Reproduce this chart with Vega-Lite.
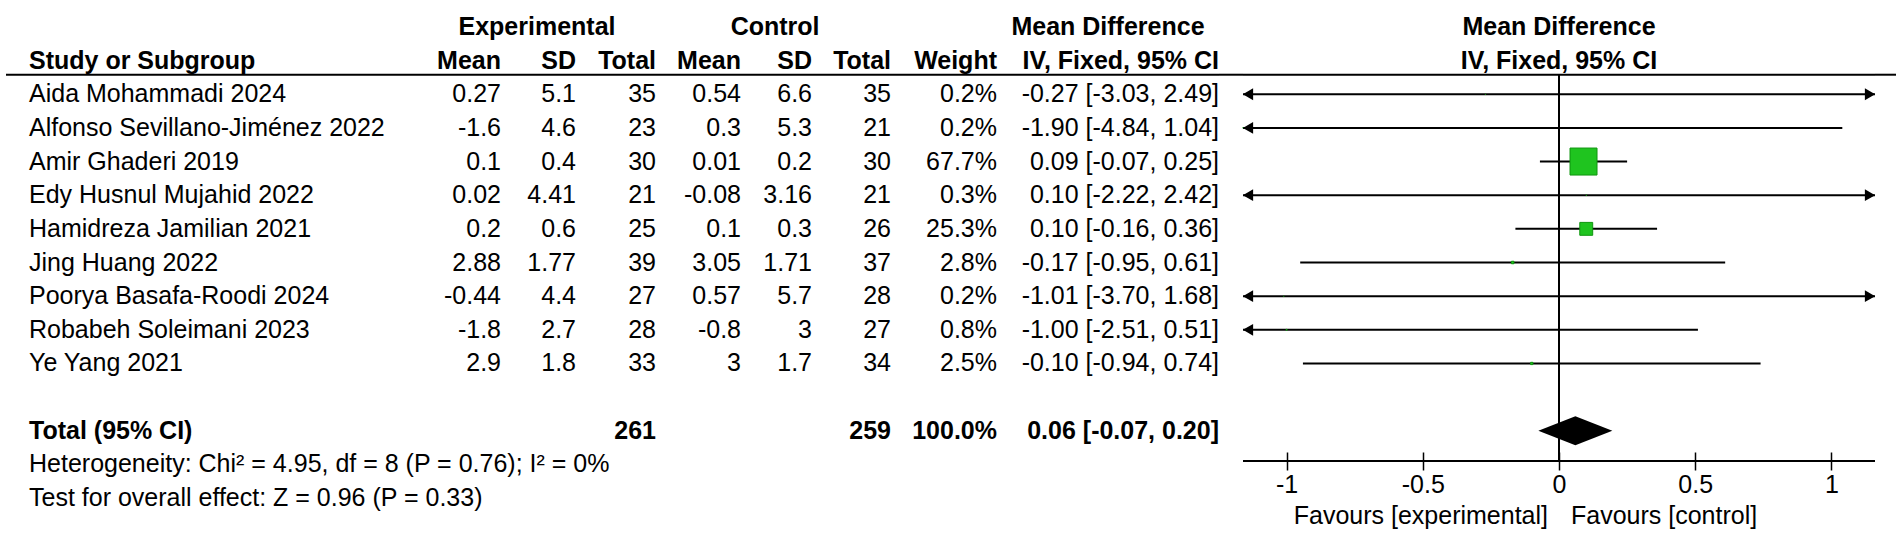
{
  "$schema": "https://vega.github.io/schema/vega-lite/v6.json",
  "padding": {"left": 5, "right": 7, "top": 0, "bottom": 0},
  "spacing": 0,
  "bounds": "flush",
  "config": {
    "view": {"stroke": null},
    "font": "Liberation Sans",
    "text": {"fontSize": 25, "color": "#000"},
    "locale": {"number": {"decimal": ".", "thousands": ",", "grouping": [3], "currency": ["$", ""], "minus": "-"}}
  },
  "datasets": {
    "studies": [
      {"row": "Aida Mohammadi 2024", "emean": 0.27, "esd": 5.1, "etot": 35, "cmean": 0.54, "csd": 6.6, "ctot": 35, "weight": 0.002, "md": -0.27, "lo": -3.03, "hi": 2.49},
      {"row": "Alfonso Sevillano-Jiménez 2022", "emean": -1.6, "esd": 4.6, "etot": 23, "cmean": 0.3, "csd": 5.3, "ctot": 21, "weight": 0.002, "md": -1.9, "lo": -4.84, "hi": 1.04},
      {"row": "Amir Ghaderi 2019", "emean": 0.1, "esd": 0.4, "etot": 30, "cmean": 0.01, "csd": 0.2, "ctot": 30, "weight": 0.677, "md": 0.09, "lo": -0.07, "hi": 0.25},
      {"row": "Edy Husnul Mujahid 2022", "emean": 0.02, "esd": 4.41, "etot": 21, "cmean": -0.08, "csd": 3.16, "ctot": 21, "weight": 0.003, "md": 0.1, "lo": -2.22, "hi": 2.42},
      {"row": "Hamidreza Jamilian 2021", "emean": 0.2, "esd": 0.6, "etot": 25, "cmean": 0.1, "csd": 0.3, "ctot": 26, "weight": 0.253, "md": 0.1, "lo": -0.16, "hi": 0.36},
      {"row": "Jing Huang 2022", "emean": 2.88, "esd": 1.77, "etot": 39, "cmean": 3.05, "csd": 1.71, "ctot": 37, "weight": 0.028, "md": -0.17, "lo": -0.95, "hi": 0.61},
      {"row": "Poorya Basafa-Roodi 2024", "emean": -0.44, "esd": 4.4, "etot": 27, "cmean": 0.57, "csd": 5.7, "ctot": 28, "weight": 0.002, "md": -1.01, "lo": -3.7, "hi": 1.68},
      {"row": "Robabeh Soleimani 2023", "emean": -1.8, "esd": 2.7, "etot": 28, "cmean": -0.8, "csd": 3, "ctot": 27, "weight": 0.008, "md": -1.0, "lo": -2.51, "hi": 0.51},
      {"row": "Ye Yang 2021", "emean": 2.9, "esd": 1.8, "etot": 33, "cmean": 3, "csd": 1.7, "ctot": 34, "weight": 0.025, "md": -0.1, "lo": -0.94, "hi": 0.74}
    ],
    "total": [
      {"row": "Total (95% CI)", "etot": 261, "ctot": 259, "weight": 1.0, "md": 0.06, "lo": -0.07, "hi": 0.2}
    ],
    "notes": [
      {"row": "het", "text": "Heterogeneity: Chi² = 4.95, df = 8 (P = 0.76); I² = 0%"},
      {"row": "test", "text": "Test for overall effect: Z = 0.96 (P = 0.33)"}
    ]
  },
  "hconcat": [
    {
      "width": 425, "height": 525,
      "encoding": {"y": {"field": "row", "type": "nominal", "axis": null, "scale": {"type": "band", "paddingInner": 0, "paddingOuter": 0.3, "domain": ["h1", "h2", "Aida Mohammadi 2024", "Alfonso Sevillano-Jiménez 2022", "Amir Ghaderi 2019", "Edy Husnul Mujahid 2022", "Hamidreza Jamilian 2021", "Jing Huang 2022", "Poorya Basafa-Roodi 2024", "Robabeh Soleimani 2023", "Ye Yang 2021", "gap", "Total (95% CI)", "het", "test"]}}},
      "layer": [
        {"data": {"values": [{"row": "h2"}]}, "mark": {"type": "rule", "color": "#000", "strokeWidth": 2}, "encoding": {"y": {"field": "row", "type": "nominal", "bandPosition": 0.92, "axis": null}}},
        {"data": {"values": [{"row": "h2"}]}, "mark": {"type": "text", "text": "Study or Subgroup", "align": "left", "fontWeight": "bold", "dx": 23}, "encoding": {"x": {"datum": 0, "type": "quantitative", "scale": {"domain": [0, 1]}, "axis": null}}},
        {"data": {"name": "studies"}, "mark": {"type": "text", "align": "left", "dx": 23}, "encoding": {"x": {"datum": 0, "type": "quantitative", "scale": {"domain": [0, 1]}, "axis": null}, "text": {"field": "row", "type": "nominal"}}},
        {"data": {"name": "total"}, "mark": {"type": "text", "align": "left", "dx": 23, "fontWeight": "bold"}, "encoding": {"x": {"datum": 0, "type": "quantitative", "scale": {"domain": [0, 1]}, "axis": null}, "text": {"field": "row", "type": "nominal"}}},
        {"data": {"name": "notes"}, "mark": {"type": "text", "align": "left", "dx": 23}, "encoding": {"x": {"datum": 0, "type": "quantitative", "scale": {"domain": [0, 1]}, "axis": null}, "text": {"field": "text", "type": "nominal"}}}
      ]
    },
    {
      "width": 70, "height": 525,
      "encoding": {"y": {"field": "row", "type": "nominal", "axis": null, "scale": {"type": "band", "paddingInner": 0, "paddingOuter": 0.3, "domain": ["h1", "h2", "Aida Mohammadi 2024", "Alfonso Sevillano-Jiménez 2022", "Amir Ghaderi 2019", "Edy Husnul Mujahid 2022", "Hamidreza Jamilian 2021", "Jing Huang 2022", "Poorya Basafa-Roodi 2024", "Robabeh Soleimani 2023", "Ye Yang 2021", "gap", "Total (95% CI)", "het", "test"]}}},
      "layer": [
        {"data": {"values": [{"row": "h2"}]}, "mark": {"type": "rule", "color": "#000", "strokeWidth": 2}, "encoding": {"y": {"field": "row", "type": "nominal", "bandPosition": 0.92, "axis": null}}},
        {"data": {"values": [{"row": "h2"}]}, "mark": {"type": "text", "text": "Mean", "align": "right", "fontWeight": "bold"}, "encoding": {"x": {"datum": 1, "type": "quantitative", "scale": {"domain": [0, 1]}, "axis": null}}},
        {"data": {"name": "studies"}, "mark": {"type": "text", "align": "right"}, "encoding": {"x": {"datum": 1, "type": "quantitative", "scale": {"domain": [0, 1]}, "axis": null}, "text": {"field": "emean", "type": "nominal"}}}
      ]
    },
    {
      "width": 75, "height": 525,
      "encoding": {"y": {"field": "row", "type": "nominal", "axis": null, "scale": {"type": "band", "paddingInner": 0, "paddingOuter": 0.3, "domain": ["h1", "h2", "Aida Mohammadi 2024", "Alfonso Sevillano-Jiménez 2022", "Amir Ghaderi 2019", "Edy Husnul Mujahid 2022", "Hamidreza Jamilian 2021", "Jing Huang 2022", "Poorya Basafa-Roodi 2024", "Robabeh Soleimani 2023", "Ye Yang 2021", "gap", "Total (95% CI)", "het", "test"]}}},
      "layer": [
        {"data": {"values": [{"row": "h2"}]}, "mark": {"type": "rule", "color": "#000", "strokeWidth": 2}, "encoding": {"y": {"field": "row", "type": "nominal", "bandPosition": 0.92, "axis": null}}},
        {"data": {"values": [{"row": "h1"}]}, "mark": {"type": "text", "text": "Experimental", "align": "center", "fontWeight": "bold"}, "encoding": {"x": {"datum": 0.48, "type": "quantitative", "scale": {"domain": [0, 1]}, "axis": null}}},
        {"data": {"values": [{"row": "h2"}]}, "mark": {"type": "text", "text": "SD", "align": "right", "fontWeight": "bold"}, "encoding": {"x": {"datum": 1, "type": "quantitative", "scale": {"domain": [0, 1]}, "axis": null}}},
        {"data": {"name": "studies"}, "mark": {"type": "text", "align": "right"}, "encoding": {"x": {"datum": 1, "type": "quantitative", "scale": {"domain": [0, 1]}, "axis": null}, "text": {"field": "esd", "type": "nominal"}}}
      ]
    },
    {
      "width": 80, "height": 525,
      "encoding": {"y": {"field": "row", "type": "nominal", "axis": null, "scale": {"type": "band", "paddingInner": 0, "paddingOuter": 0.3, "domain": ["h1", "h2", "Aida Mohammadi 2024", "Alfonso Sevillano-Jiménez 2022", "Amir Ghaderi 2019", "Edy Husnul Mujahid 2022", "Hamidreza Jamilian 2021", "Jing Huang 2022", "Poorya Basafa-Roodi 2024", "Robabeh Soleimani 2023", "Ye Yang 2021", "gap", "Total (95% CI)", "het", "test"]}}},
      "layer": [
        {"data": {"values": [{"row": "h2"}]}, "mark": {"type": "rule", "color": "#000", "strokeWidth": 2}, "encoding": {"y": {"field": "row", "type": "nominal", "bandPosition": 0.92, "axis": null}}},
        {"data": {"values": [{"row": "h2"}]}, "mark": {"type": "text", "text": "Total", "align": "right", "fontWeight": "bold"}, "encoding": {"x": {"datum": 1, "type": "quantitative", "scale": {"domain": [0, 1]}, "axis": null}}},
        {"data": {"name": "studies"}, "mark": {"type": "text", "align": "right"}, "encoding": {"x": {"datum": 1, "type": "quantitative", "scale": {"domain": [0, 1]}, "axis": null}, "text": {"field": "etot", "type": "nominal"}}},
        {"data": {"name": "total"}, "mark": {"type": "text", "align": "right", "fontWeight": "bold"}, "encoding": {"x": {"datum": 1, "type": "quantitative", "scale": {"domain": [0, 1]}, "axis": null}, "text": {"field": "etot", "type": "nominal"}}}
      ]
    },
    {
      "width": 85, "height": 525,
      "encoding": {"y": {"field": "row", "type": "nominal", "axis": null, "scale": {"type": "band", "paddingInner": 0, "paddingOuter": 0.3, "domain": ["h1", "h2", "Aida Mohammadi 2024", "Alfonso Sevillano-Jiménez 2022", "Amir Ghaderi 2019", "Edy Husnul Mujahid 2022", "Hamidreza Jamilian 2021", "Jing Huang 2022", "Poorya Basafa-Roodi 2024", "Robabeh Soleimani 2023", "Ye Yang 2021", "gap", "Total (95% CI)", "het", "test"]}}},
      "layer": [
        {"data": {"values": [{"row": "h2"}]}, "mark": {"type": "rule", "color": "#000", "strokeWidth": 2}, "encoding": {"y": {"field": "row", "type": "nominal", "bandPosition": 0.92, "axis": null}}},
        {"data": {"values": [{"row": "h2"}]}, "mark": {"type": "text", "text": "Mean", "align": "right", "fontWeight": "bold"}, "encoding": {"x": {"datum": 1, "type": "quantitative", "scale": {"domain": [0, 1]}, "axis": null}}},
        {"data": {"name": "studies"}, "mark": {"type": "text", "align": "right"}, "encoding": {"x": {"datum": 1, "type": "quantitative", "scale": {"domain": [0, 1]}, "axis": null}, "text": {"field": "cmean", "type": "nominal"}}}
      ]
    },
    {
      "width": 71, "height": 525,
      "encoding": {"y": {"field": "row", "type": "nominal", "axis": null, "scale": {"type": "band", "paddingInner": 0, "paddingOuter": 0.3, "domain": ["h1", "h2", "Aida Mohammadi 2024", "Alfonso Sevillano-Jiménez 2022", "Amir Ghaderi 2019", "Edy Husnul Mujahid 2022", "Hamidreza Jamilian 2021", "Jing Huang 2022", "Poorya Basafa-Roodi 2024", "Robabeh Soleimani 2023", "Ye Yang 2021", "gap", "Total (95% CI)", "het", "test"]}}},
      "layer": [
        {"data": {"values": [{"row": "h2"}]}, "mark": {"type": "rule", "color": "#000", "strokeWidth": 2}, "encoding": {"y": {"field": "row", "type": "nominal", "bandPosition": 0.92, "axis": null}}},
        {"data": {"values": [{"row": "h1"}]}, "mark": {"type": "text", "text": "Control", "align": "center", "fontWeight": "bold"}, "encoding": {"x": {"datum": 0.48, "type": "quantitative", "scale": {"domain": [0, 1]}, "axis": null}}},
        {"data": {"values": [{"row": "h2"}]}, "mark": {"type": "text", "text": "SD", "align": "right", "fontWeight": "bold"}, "encoding": {"x": {"datum": 1, "type": "quantitative", "scale": {"domain": [0, 1]}, "axis": null}}},
        {"data": {"name": "studies"}, "mark": {"type": "text", "align": "right"}, "encoding": {"x": {"datum": 1, "type": "quantitative", "scale": {"domain": [0, 1]}, "axis": null}, "text": {"field": "csd", "type": "nominal"}}}
      ]
    },
    {
      "width": 79, "height": 525,
      "encoding": {"y": {"field": "row", "type": "nominal", "axis": null, "scale": {"type": "band", "paddingInner": 0, "paddingOuter": 0.3, "domain": ["h1", "h2", "Aida Mohammadi 2024", "Alfonso Sevillano-Jiménez 2022", "Amir Ghaderi 2019", "Edy Husnul Mujahid 2022", "Hamidreza Jamilian 2021", "Jing Huang 2022", "Poorya Basafa-Roodi 2024", "Robabeh Soleimani 2023", "Ye Yang 2021", "gap", "Total (95% CI)", "het", "test"]}}},
      "layer": [
        {"data": {"values": [{"row": "h2"}]}, "mark": {"type": "rule", "color": "#000", "strokeWidth": 2}, "encoding": {"y": {"field": "row", "type": "nominal", "bandPosition": 0.92, "axis": null}}},
        {"data": {"values": [{"row": "h2"}]}, "mark": {"type": "text", "text": "Total", "align": "right", "fontWeight": "bold"}, "encoding": {"x": {"datum": 1, "type": "quantitative", "scale": {"domain": [0, 1]}, "axis": null}}},
        {"data": {"name": "studies"}, "mark": {"type": "text", "align": "right"}, "encoding": {"x": {"datum": 1, "type": "quantitative", "scale": {"domain": [0, 1]}, "axis": null}, "text": {"field": "ctot", "type": "nominal"}}},
        {"data": {"name": "total"}, "mark": {"type": "text", "align": "right", "fontWeight": "bold"}, "encoding": {"x": {"datum": 1, "type": "quantitative", "scale": {"domain": [0, 1]}, "axis": null}, "text": {"field": "ctot", "type": "nominal"}}}
      ]
    },
    {
      "width": 106, "height": 525,
      "encoding": {"y": {"field": "row", "type": "nominal", "axis": null, "scale": {"type": "band", "paddingInner": 0, "paddingOuter": 0.3, "domain": ["h1", "h2", "Aida Mohammadi 2024", "Alfonso Sevillano-Jiménez 2022", "Amir Ghaderi 2019", "Edy Husnul Mujahid 2022", "Hamidreza Jamilian 2021", "Jing Huang 2022", "Poorya Basafa-Roodi 2024", "Robabeh Soleimani 2023", "Ye Yang 2021", "gap", "Total (95% CI)", "het", "test"]}}},
      "layer": [
        {"data": {"values": [{"row": "h2"}]}, "mark": {"type": "rule", "color": "#000", "strokeWidth": 2}, "encoding": {"y": {"field": "row", "type": "nominal", "bandPosition": 0.92, "axis": null}}},
        {"data": {"values": [{"row": "h2"}]}, "mark": {"type": "text", "text": "Weight", "align": "right", "fontWeight": "bold"}, "encoding": {"x": {"datum": 1, "type": "quantitative", "scale": {"domain": [0, 1]}, "axis": null}}},
        {"data": {"name": "studies"}, "mark": {"type": "text", "align": "right"}, "encoding": {"x": {"datum": 1, "type": "quantitative", "scale": {"domain": [0, 1]}, "axis": null}, "text": {"field": "weight", "type": "quantitative", "format": ".1%"}}},
        {"data": {"name": "total"}, "mark": {"type": "text", "align": "right", "fontWeight": "bold"}, "encoding": {"x": {"datum": 1, "type": "quantitative", "scale": {"domain": [0, 1]}, "axis": null}, "text": {"field": "weight", "type": "quantitative", "format": ".1%"}}}
      ]
    },
    {
      "width": 222, "height": 525,
      "encoding": {"y": {"field": "row", "type": "nominal", "axis": null, "scale": {"type": "band", "paddingInner": 0, "paddingOuter": 0.3, "domain": ["h1", "h2", "Aida Mohammadi 2024", "Alfonso Sevillano-Jiménez 2022", "Amir Ghaderi 2019", "Edy Husnul Mujahid 2022", "Hamidreza Jamilian 2021", "Jing Huang 2022", "Poorya Basafa-Roodi 2024", "Robabeh Soleimani 2023", "Ye Yang 2021", "gap", "Total (95% CI)", "het", "test"]}}},
      "layer": [
        {"data": {"values": [{"row": "h2"}]}, "mark": {"type": "rule", "color": "#000", "strokeWidth": 2}, "encoding": {"y": {"field": "row", "type": "nominal", "bandPosition": 0.92, "axis": null}}},
        {"data": {"values": [{"row": "h1"}]}, "mark": {"type": "text", "text": "Mean Difference", "align": "center", "fontWeight": "bold"}, "encoding": {"x": {"datum": 0.5, "type": "quantitative", "scale": {"domain": [0, 1]}, "axis": null}}},
        {"data": {"values": [{"row": "h2"}]}, "mark": {"type": "text", "text": "IV, Fixed, 95% CI", "align": "right", "fontWeight": "bold"}, "encoding": {"x": {"datum": 1, "type": "quantitative", "scale": {"domain": [0, 1]}, "axis": null}}},
        {"data": {"name": "studies"}, "mark": {"type": "text", "align": "right", "text": {"expr": "format(datum.md, '.2f') + ' [' + format(datum.lo, '.2f') + ', ' + format(datum.hi, '.2f') + ']'"}}, "encoding": {"x": {"datum": 1, "type": "quantitative", "scale": {"domain": [0, 1]}, "axis": null}}},
        {"data": {"name": "total"}, "mark": {"type": "text", "align": "right", "fontWeight": "bold", "text": {"expr": "format(datum.md, '.2f') + ' [' + format(datum.lo, '.2f') + ', ' + format(datum.hi, '.2f') + ']'"}}, "encoding": {"x": {"datum": 1, "type": "quantitative", "scale": {"domain": [0, 1]}, "axis": null}}}
      ]
    },
    {
      "width": 24, "height": 525,
      "data": {"values": [{"row": "h2"}]},
      "mark": {"type": "rule", "color": "#000", "strokeWidth": 2},
      "encoding": {"y": {"field": "row", "type": "nominal", "bandPosition": 0.92, "axis": null, "scale": {"type": "band", "paddingInner": 0, "paddingOuter": 0.3, "domain": ["h1", "h2", "Aida Mohammadi 2024", "Alfonso Sevillano-Jiménez 2022", "Amir Ghaderi 2019", "Edy Husnul Mujahid 2022", "Hamidreza Jamilian 2021", "Jing Huang 2022", "Poorya Basafa-Roodi 2024", "Robabeh Soleimani 2023", "Ye Yang 2021", "gap", "Total (95% CI)", "het", "test"]}}}
    },
    {
      "width": 632, "height": 525,
      "encoding": {"y": {"field": "row", "type": "nominal", "axis": null, "scale": {"type": "band", "paddingInner": 0, "paddingOuter": 0.3, "domain": ["h1", "h2", "Aida Mohammadi 2024", "Alfonso Sevillano-Jiménez 2022", "Amir Ghaderi 2019", "Edy Husnul Mujahid 2022", "Hamidreza Jamilian 2021", "Jing Huang 2022", "Poorya Basafa-Roodi 2024", "Robabeh Soleimani 2023", "Ye Yang 2021", "gap", "Total (95% CI)", "het", "test"]}}},
      "layer": [
        {"data": {"values": [{"row": "h2"}]}, "mark": {"type": "rule", "color": "#000", "strokeWidth": 2}, "encoding": {"y": {"field": "row", "type": "nominal", "bandPosition": 0.92, "axis": null}}},
        {"data": {"values": [{"row": "het"}]}, "mark": {"type": "rule", "color": "#000", "strokeWidth": 2}, "encoding": {"y": {"field": "row", "type": "nominal", "bandPosition": 0.4, "axis": null}}},
        {"data": {"values": [{"row": "h2", "row2": "het"}]}, "mark": {"type": "rule", "color": "#000", "strokeWidth": 2},
         "encoding": {
           "x": {"datum": 0, "type": "quantitative", "scale": {"domain": [-1.16, 1.16], "nice": false, "zero": false, "clamp": true}, "axis": {"orient": "bottom", "offset": -73, "values": [-1, -0.5, 0, 0.5, 1], "tickSize": 18, "tickWidth": 1.5, "tickColor": "#000", "domain": false, "grid": false, "labelFontSize": 25, "labelColor": "#000", "labelPadding": 2, "labelExpr": "'' + datum.value", "title": null, "labelFlush": false}},
           "y": {"field": "row", "type": "nominal", "bandPosition": 0.92, "axis": null},
           "y2": {"field": "row2", "bandPosition": 0.4}
         }},
        {"data": {"name": "studies"}, "mark": {"type": "rule", "color": "#000", "strokeWidth": 2},
         "encoding": {
           "x": {"field": "lo", "type": "quantitative", "scale": {"domain": [-1.16, 1.16], "nice": false, "zero": false, "clamp": true}, "axis": {"orient": "bottom", "offset": -73, "values": [-1, -0.5, 0, 0.5, 1], "tickSize": 18, "tickWidth": 1.5, "tickColor": "#000", "domain": false, "grid": false, "labelFontSize": 25, "labelColor": "#000", "labelPadding": 2, "labelExpr": "'' + datum.value", "title": null, "labelFlush": false}},
           "x2": {"field": "hi"}
         }},
        {"data": {"name": "studies"}, "transform": [{"filter": "datum.lo < -1.16"}], "mark": {"type": "point", "shape": "triangle-left", "filled": true, "color": "#000", "opacity": 1, "size": 140, "xOffset": 5},
         "encoding": {
           "x": {"field": "lo", "type": "quantitative", "scale": {"domain": [-1.16, 1.16], "nice": false, "zero": false, "clamp": true}, "axis": {"orient": "bottom", "offset": -73, "values": [-1, -0.5, 0, 0.5, 1], "tickSize": 18, "tickWidth": 1.5, "tickColor": "#000", "domain": false, "grid": false, "labelFontSize": 25, "labelColor": "#000", "labelPadding": 2, "labelExpr": "'' + datum.value", "title": null, "labelFlush": false}}
         }},
        {"data": {"name": "studies"}, "transform": [{"filter": "datum.hi > 1.16"}], "mark": {"type": "point", "shape": "triangle-right", "filled": true, "color": "#000", "opacity": 1, "size": 140, "xOffset": -5},
         "encoding": {
           "x": {"field": "hi", "type": "quantitative", "scale": {"domain": [-1.16, 1.16], "nice": false, "zero": false, "clamp": true}, "axis": {"orient": "bottom", "offset": -73, "values": [-1, -0.5, 0, 0.5, 1], "tickSize": 18, "tickWidth": 1.5, "tickColor": "#000", "domain": false, "grid": false, "labelFontSize": 25, "labelColor": "#000", "labelPadding": 2, "labelExpr": "'' + datum.value", "title": null, "labelFlush": false}}
         }},
        {"data": {"name": "studies"}, "mark": {"type": "point", "shape": "square", "filled": true, "fill": "#1fc41f", "stroke": "#0f960f", "strokeWidth": 1, "opacity": 1},
         "encoding": {
           "x": {"field": "md", "type": "quantitative", "scale": {"domain": [-1.16, 1.16], "nice": false, "zero": false, "clamp": true}, "axis": {"orient": "bottom", "offset": -73, "values": [-1, -0.5, 0, 0.5, 1], "tickSize": 18, "tickWidth": 1.5, "tickColor": "#000", "domain": false, "grid": false, "labelFontSize": 25, "labelColor": "#000", "labelPadding": 2, "labelExpr": "'' + datum.value", "title": null, "labelFlush": false}},
           "size": {"field": "weight", "type": "quantitative", "scale": {"type": "pow", "exponent": 1.5, "domain": [0, 0.677], "range": [0, 729]}, "legend": null}
         }},
        {"data": {"name": "total"}, "mark": {"type": "point", "shape": "M-1,0L0,-0.39L1,0L0,0.39Z", "filled": true, "color": "#000", "opacity": 1, "size": 5476},
         "encoding": {
           "x": {"field": "md", "type": "quantitative", "scale": {"domain": [-1.16, 1.16], "nice": false, "zero": false, "clamp": true}, "axis": {"orient": "bottom", "offset": -73, "values": [-1, -0.5, 0, 0.5, 1], "tickSize": 18, "tickWidth": 1.5, "tickColor": "#000", "domain": false, "grid": false, "labelFontSize": 25, "labelColor": "#000", "labelPadding": 2, "labelExpr": "'' + datum.value", "title": null, "labelFlush": false}}
         }},
        {"data": {"values": [{"row": "h1", "t": "Mean Difference"}, {"row": "h2", "t": "IV, Fixed, 95% CI"}]}, "mark": {"type": "text", "align": "center", "fontWeight": "bold"},
         "encoding": {
           "x": {"datum": 0, "type": "quantitative", "scale": {"domain": [-1.16, 1.16], "nice": false, "zero": false, "clamp": true}, "axis": {"orient": "bottom", "offset": -73, "values": [-1, -0.5, 0, 0.5, 1], "tickSize": 18, "tickWidth": 1.5, "tickColor": "#000", "domain": false, "grid": false, "labelFontSize": 25, "labelColor": "#000", "labelPadding": 2, "labelExpr": "'' + datum.value", "title": null, "labelFlush": false}},
           "text": {"field": "t", "type": "nominal"}
         }},
        {"data": {"values": [{"row": "test"}]}, "mark": {"type": "text", "text": "Favours [experimental]", "align": "right", "dx": -11, "dy": 18},
         "encoding": {
           "x": {"datum": 0, "type": "quantitative", "scale": {"domain": [-1.16, 1.16], "nice": false, "zero": false, "clamp": true}, "axis": {"orient": "bottom", "offset": -73, "values": [-1, -0.5, 0, 0.5, 1], "tickSize": 18, "tickWidth": 1.5, "tickColor": "#000", "domain": false, "grid": false, "labelFontSize": 25, "labelColor": "#000", "labelPadding": 2, "labelExpr": "'' + datum.value", "title": null, "labelFlush": false}}
         }},
        {"data": {"values": [{"row": "test"}]}, "mark": {"type": "text", "text": "Favours [control]", "align": "left", "dx": 12, "dy": 18},
         "encoding": {
           "x": {"datum": 0, "type": "quantitative", "scale": {"domain": [-1.16, 1.16], "nice": false, "zero": false, "clamp": true}, "axis": {"orient": "bottom", "offset": -73, "values": [-1, -0.5, 0, 0.5, 1], "tickSize": 18, "tickWidth": 1.5, "tickColor": "#000", "domain": false, "grid": false, "labelFontSize": 25, "labelColor": "#000", "labelPadding": 2, "labelExpr": "'' + datum.value", "title": null, "labelFlush": false}}
         }}
      ]
    },
    {
      "width": 21, "height": 525,
      "data": {"values": [{"row": "h2"}]},
      "mark": {"type": "rule", "color": "#000", "strokeWidth": 2},
      "encoding": {"y": {"field": "row", "type": "nominal", "bandPosition": 0.92, "axis": null, "scale": {"type": "band", "paddingInner": 0, "paddingOuter": 0.3, "domain": ["h1", "h2", "Aida Mohammadi 2024", "Alfonso Sevillano-Jiménez 2022", "Amir Ghaderi 2019", "Edy Husnul Mujahid 2022", "Hamidreza Jamilian 2021", "Jing Huang 2022", "Poorya Basafa-Roodi 2024", "Robabeh Soleimani 2023", "Ye Yang 2021", "gap", "Total (95% CI)", "het", "test"]}}}
    }
  ]
}
